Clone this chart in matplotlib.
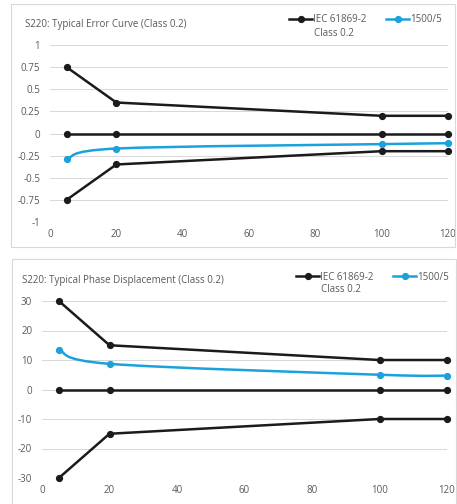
import matplotlib
matplotlib.use("Agg")
import matplotlib.pyplot as plt
from matplotlib.patches import Rectangle, PathPatch
from matplotlib.path import Path
from matplotlib.lines import Line2D
import numpy as np

plt.rcParams["font.family"] = ["Open Sans", "DejaVu Sans"]

# ---------------------------------------------------------------------------
X = [5, 20, 100, 120]

ERR_UPPER = [0.75, 0.35, 0.2, 0.2]
ERR_ZERO  = [0, 0, 0, 0]
ERR_LOWER = [-0.75, -0.35, -0.2, -0.2]
ERR_1500  = [-0.29, -0.17, -0.12, -0.11]

PH_UPPER = [30, 15, 10, 10]
PH_ZERO  = [0, 0, 0, 0]
PH_LOWER = [-30, -15, -10, -10]
PH_1500  = [13.5, 8.7, 5.0, 4.7]

ERR_TICKS = [-1, -0.75, -0.5, -0.25, 0, 0.25, 0.5, 0.75, 1]
PH_TICKS  = [-30, -20, -10, 0, 10, 20, 30]
X_TICKS   = [0, 20, 40, 60, 80, 100, 120]

TITLE_ERR = "S220: Typical Error Curve (Class 0.2)"
TITLE_PH  = "S220: Typical Phase Displacement (Class 0.2)"
LEG_IEC   = ("IEC 61869-2", "Class 0.2")
LEG_BLUE  = "1500/5"

BLACK = "#1c1a1a"
BLUE  = "#1ba1db"
GREY  = "#595959"
GRID  = "#d9d9d9"

W, H = 457, 504
# ---------------------------------------------------------------------------


def smooth_path(ax, xs, ys):
    """Excel-style smoothed line through the points (Catmull-Rom bezier)."""
    pts = ax.transData.transform(np.column_stack([xs, ys]))
    n = len(pts)
    verts = [pts[0]]
    codes = [Path.MOVETO]
    for i in range(n - 1):
        p0 = pts[max(i - 1, 0)]
        p1 = pts[i]
        p2 = pts[i + 1]
        p3 = pts[min(i + 2, n - 1)]
        c1 = p1 + (p2 - p0) / 6.0
        c2 = p2 - (p3 - p1) / 6.0
        verts += [c1, c2, p2]
        codes += [Path.CURVE4] * 3
    verts = ax.transData.inverted().transform(np.array(verts))
    return Path(verts, codes)


def draw_chart(fig, box, axrect, title, title_xy, ylim, yticks,
               upper, zero, lower, blue, leg_xy):
    # light chart frame
    bx, by, bw, bh = box
    fig.patches.append(Rectangle((bx / W, 1 - (by + bh) / H), bw / W, bh / H,
                                 transform=fig.transFigure, fill=False,
                                 ec="#d9d9d9", lw=0.8))
    fig.text(title_xy[0] / W, 1 - title_xy[1] / H, title, fontsize=7,
             color=GREY, ha="left", va="center")

    l, t, r, b = axrect
    ax = fig.add_axes([l / W, 1 - b / H, (r - l) / W, (b - t) / H])
    ax.set_xlim(0, 120)
    ax.set_ylim(*ylim)
    ax.set_xticks(X_TICKS)
    ax.set_yticks(yticks)
    ax.set_yticklabels([f"{v:g}" for v in yticks])
    ax.tick_params(length=0, labelsize=7, labelcolor=GREY)
    ax.tick_params(axis="y", pad=7)
    ax.tick_params(axis="x", pad=5)
    for s in ax.spines.values():
        s.set_visible(False)
    ax.grid(axis="y", color=GRID, lw=0.75)
    ax.set_axisbelow(True)
    ax.patch.set_alpha(0)

    kw = dict(color=BLACK, lw=1.8, marker="o", ms=4.2, zorder=3, clip_on=False)
    ax.plot(X, upper, **kw)
    ax.plot(X, zero, **kw)
    ax.plot(X, lower, **kw)

    ax.add_patch(PathPatch(smooth_path(ax, X, blue), fill=False,
                           ec=BLUE, lw=1.8, zorder=4, clip_on=False))
    ax.plot(X, blue, ls="none", marker="o", ms=4.2, color=BLUE, zorder=4,
            clip_on=False)

    # legend: single-line labels, second line of the IEC label added below
    lx, ly = leg_xy
    handles = [Line2D([], [], color=BLACK, lw=1.8, marker="o", ms=4.2),
               Line2D([], [], color=BLUE, lw=1.8, marker="o", ms=4.2)]
    fig.legend(handles, [LEG_IEC[0], LEG_BLUE], ncol=2, frameon=False,
               fontsize=7, labelcolor=GREY, handlelength=2.4,
               handletextpad=0.1, columnspacing=2.0, loc="center left",
               bbox_to_anchor=(lx / W, 1 - ly / H),
               borderaxespad=0, borderpad=0)
    fig.text((lx + 25) / W, 1 - (ly + 13) / H, LEG_IEC[1], fontsize=7,
             color=GREY, ha="left", va="center")
    return ax


fig = plt.figure(figsize=(W / 100, H / 100), dpi=100)

draw_chart(fig, (11, 4, 444, 243), (50, 45, 448, 222), TITLE_ERR, (25, 24),
           (-1, 1), ERR_TICKS, ERR_UPPER, ERR_ZERO, ERR_LOWER, ERR_1500,
           (289, 20))

draw_chart(fig, (12, 259, 444, 260), (42, 301, 447, 478), TITLE_PH, (22, 280),
           (-30, 30), PH_TICKS, PH_UPPER, PH_ZERO, PH_LOWER, PH_1500,
           (296, 277))

fig.savefig("out.png", dpi=100)
